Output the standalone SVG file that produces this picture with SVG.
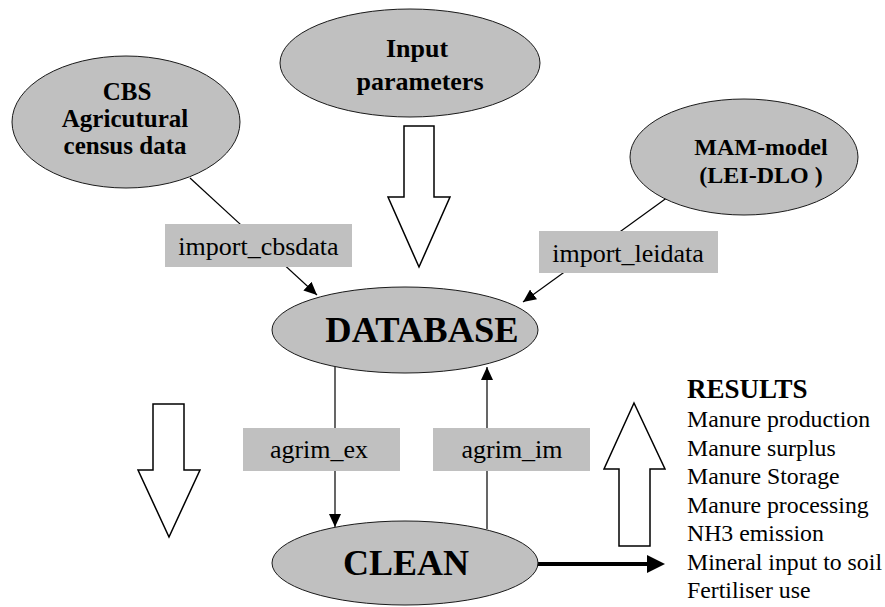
<svg xmlns="http://www.w3.org/2000/svg" width="885" height="607" viewBox="0 0 885 607">
<style>
.node{fill:#c0c0c0;stroke:#1a1a1a;stroke-width:1}
.title{font-family:'Liberation Serif','DejaVu Serif',serif;font-weight:bold;fill:#000;text-anchor:middle}
.lbl{fill:#c0c0c0;stroke:none}
.lbltxt{font-family:'Liberation Serif','DejaVu Serif',serif;font-size:26px;fill:#000;text-anchor:middle}
.conn{stroke:#000;stroke-width:1.2;fill:none}
.block{fill:#fff;stroke:#000;stroke-width:1.5;stroke-linejoin:miter}
.res{font-family:'Liberation Serif','DejaVu Serif',serif;font-size:23.8px;fill:#000}
</style>
<defs>
<marker id="ah" markerWidth="14" markerHeight="12" refX="13" refY="6" orient="auto" markerUnits="userSpaceOnUse">
<path d="M0,0 L13,6 L0,12 Z" fill="#000"/>
</marker>
</defs>
<rect width="885" height="607" fill="#fff"/>

<g id="connectors">
<line class="conn" x1="190" y1="178" x2="317" y2="295" marker-end="url(#ah)"/>
<line class="conn" x1="668" y1="197" x2="523" y2="302" marker-end="url(#ah)"/>
<line class="conn" x1="335" y1="367" x2="335" y2="527" marker-end="url(#ah)"/>
<line class="conn" x1="487" y1="529" x2="487" y2="367" marker-end="url(#ah)"/>
<line x1="531" y1="564" x2="650" y2="564" stroke="#000" stroke-width="4"/>
<polygon points="647,555 665,564 647,573" fill="#000"/>
</g>

<g id="label-import_cbsdata">
<rect class="lbl" x="165" y="224" width="187" height="43"/>
<text class="lbltxt" x="258.5" y="255">import_cbsdata</text>
</g>
<g id="label-import_leidata">
<rect class="lbl" x="539" y="231" width="179" height="42"/>
<text class="lbltxt" x="628" y="262">import_leidata</text>
</g>
<g id="label-agrim_ex">
<rect class="lbl" x="243" y="428" width="157" height="43"/>
<text class="lbltxt" x="319" y="458">agrim_ex</text>
</g>
<g id="label-agrim_im">
<rect class="lbl" x="433" y="428" width="157" height="43"/>
<text class="lbltxt" x="512" y="458">agrim_im</text>
</g>

<g id="node-cbs">
<ellipse class="node" cx="126" cy="122" rx="114" ry="66"/>
<text class="title" font-size="25" x="127" y="100">CBS</text>
<text class="title" font-size="25" x="125" y="127">Agricutural</text>
<text class="title" font-size="25" x="125" y="154">census data</text>
</g>
<g id="node-input">
<ellipse class="node" cx="410" cy="63" rx="130" ry="54"/>
<text class="title" font-size="26" x="417" y="57">Input</text>
<text class="title" font-size="26" x="420" y="90">parameters</text>
</g>
<g id="node-mam">
<ellipse class="node" cx="744" cy="157" rx="114" ry="58"/>
<text class="title" font-size="24" x="761" y="155">MAM-model</text>
<text class="title" font-size="24" x="761" y="183">(LEI-DLO )</text>
</g>
<g id="node-database">
<ellipse class="node" cx="405" cy="330" rx="133" ry="43"/>
<text class="title" font-size="36.5" x="422" y="342">DATABASE</text>
</g>
<g id="node-clean">
<ellipse class="node" cx="405" cy="563" rx="133" ry="42"/>
<text class="title" font-size="36" x="406" y="575">CLEAN</text>
</g>

<g id="block-arrows">
<polygon class="block" points="404,126 434,126 434,197 450,197 419,267 388,197 404,197"/>
<polygon class="block" points="153,404 184,404 184,470 200,470 169,537 138,470 153,470"/>
<polygon class="block" points="634,403 665,469 650,469 650,546 619,546 619,469 604,469"/>
</g>

<g id="results">
<text class="title" font-size="27" x="687" y="398" style="text-anchor:start">RESULTS</text>
<text class="res" x="687" y="427">Manure production</text>
<text class="res" x="687" y="455.5">Manure surplus</text>
<text class="res" x="687" y="484">Manure Storage</text>
<text class="res" x="687" y="512.5">Manure processing</text>
<text class="res" x="687" y="541">NH3 emission</text>
<text class="res" x="687" y="569.5">Mineral input to soil</text>
<text class="res" x="687" y="598">Fertiliser use</text>
</g>
</svg>
